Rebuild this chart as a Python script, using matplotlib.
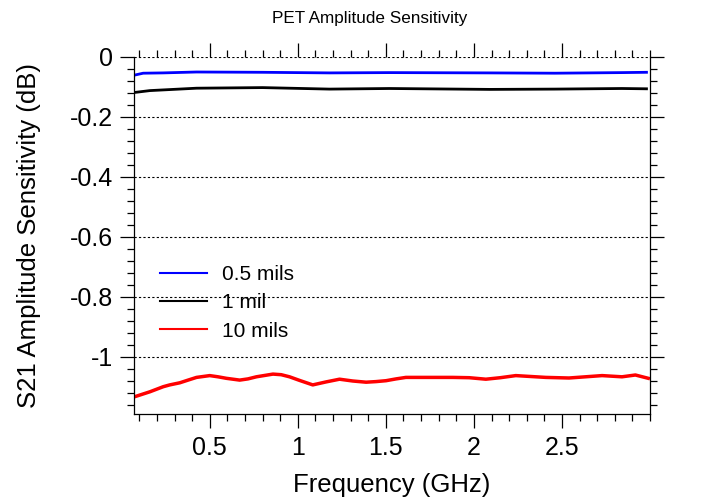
import numpy as np
import matplotlib
matplotlib.use("Agg")
import matplotlib.pyplot as plt
from matplotlib.ticker import MultipleLocator

plt.rcParams['font.family'] = ['Liberation Sans', 'DejaVu Sans']

# values (frequency in GHz, S21 sensitivity in dB)
freq_05 = [0.076, 0.122, 0.235, 0.425, 0.80, 1.18, 1.52, 2.09, 2.46, 2.84, 2.98]
amp_05 = [-0.060, -0.054, -0.053, -0.050, -0.051, -0.053, -0.052, -0.053, -0.054, -0.052, -0.051]

freq_1 = [0.076, 0.16, 0.425, 0.80, 1.18, 1.52, 2.09, 2.46, 2.84, 2.98]
amp_1 = [-0.118, -0.112, -0.104, -0.102, -0.107, -0.105, -0.108, -0.107, -0.105, -0.106]

freq_10 = [0.076, 0.16, 0.236, 0.273, 0.33, 0.377, 0.425, 0.50, 0.547, 0.594,
           0.67, 0.717, 0.765, 0.859, 0.906, 0.953, 1.01, 1.085, 1.161, 1.237,
           1.312, 1.388, 1.444, 1.501, 1.558, 1.614, 1.765, 1.879, 1.973, 2.068,
           2.15, 2.238, 2.408, 2.54, 2.728, 2.841, 2.917, 2.99]
amp_10 = [-1.132, -1.116, -1.099, -1.093, -1.086, -1.077, -1.068, -1.062, -1.066, -1.071,
          -1.077, -1.073, -1.066, -1.057, -1.059, -1.066, -1.078, -1.093, -1.083, -1.074,
          -1.080, -1.084, -1.082, -1.079, -1.073, -1.068, -1.068, -1.068, -1.069, -1.074,
          -1.069, -1.062, -1.068, -1.070, -1.062, -1.066, -1.060, -1.071]

labels = ['0.5 mils', '1 mil', '10 mils']

fig = plt.figure(figsize=(7.01, 5.01), dpi=100)
ax = fig.add_axes([134/701, 1-414/501, 516/701, 357/501])

l1, = ax.plot(freq_05, amp_05, color='#0000ff', lw=2.0, label=labels[0])
l2, = ax.plot(freq_1, amp_1, color='black', lw=2.0, label=labels[1])
l3, = ax.plot(freq_10, amp_10, color='#ff0000', lw=2.5, label=labels[2])

ax.set_xlim(0.07, 3.0)
ax.set_ylim(-1.19, 0)
ax.xaxis.set_minor_locator(MultipleLocator(0.1))
ax.yaxis.set_minor_locator(MultipleLocator(0.04))
ax.set_xticks([0.5, 1, 1.5, 2, 2.5])
ax.set_xticklabels(['0.5', '1', '1.5', '2', '2.5'])
ax.set_yticks([0, -0.2, -0.4, -0.6, -0.8, -1])
ax.set_yticklabels(['0', '-0.2', '-0.4', '-0.6', '-0.8', '-1'])

ax.tick_params(which='both', direction='out', top=True, right=True, width=0.9, colors='black')
ax.tick_params(which='major', length=10)
ax.tick_params(which='minor', length=5)
ax.tick_params(axis='x', which='major', labelsize=18, pad=6)
ax.tick_params(axis='y', which='major', labelsize=18, pad=5)

ax.grid(axis='y', which='major', color='black', linestyle=(0, (2, 2)), lw=0.8)
ax.spines['top'].set_visible(False)
for s in ['left', 'right', 'bottom']:
    ax.spines[s].set_linewidth(0.9)

ax.set_xlabel('Frequency (GHz)', fontsize=18.5, labelpad=9)
ax.set_ylabel('S21 Amplitude Sensitivity (dB)', fontsize=18.5, labelpad=21)
fig.text(370/701, 1-18/501, 'PET Amplitude Sensitivity', fontsize=12.3, ha='center', va='center')

leg = ax.legend(handles=[l1, l2, l3], loc='upper left', bbox_to_anchor=(0.035, 0.44),
                frameon=False, fontsize=15, handlelength=2.26, handletextpad=0.72,
                labelspacing=0.44, borderaxespad=0)
for h in leg.get_lines():
    h.set_linewidth(1.5)

fig.savefig('out.png', dpi=100)
